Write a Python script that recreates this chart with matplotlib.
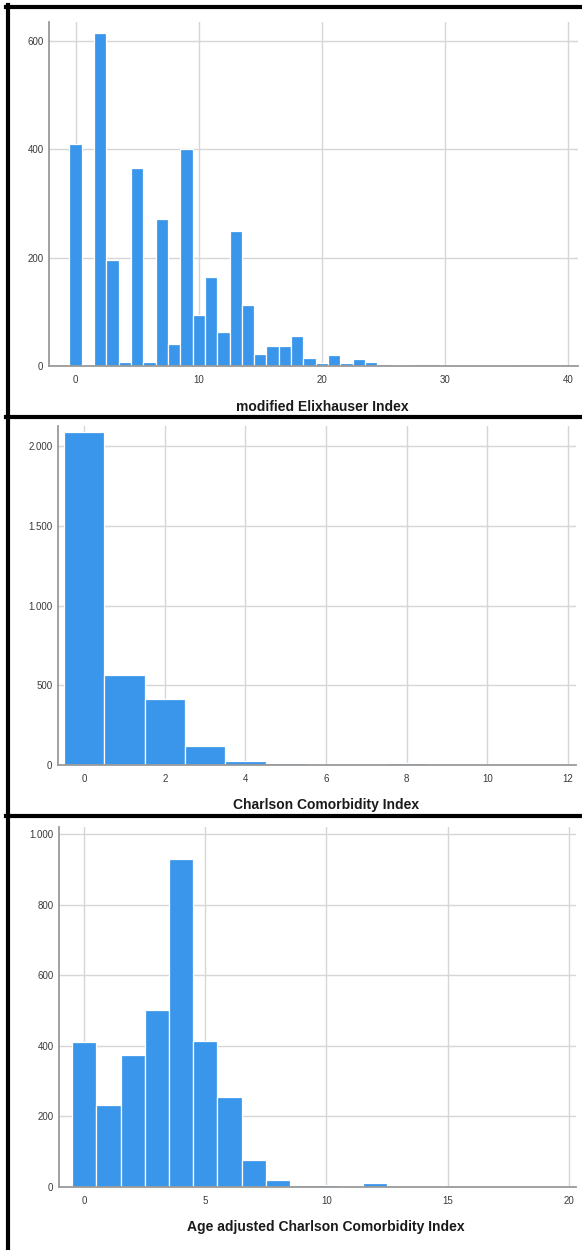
import matplotlib
matplotlib.use('Agg')
import matplotlib.pyplot as plt
from matplotlib.lines import Line2D
from matplotlib.ticker import FuncFormatter, MultipleLocator

plt.rcParams['font.family'] = ['Liberation Sans', 'DejaVu Sans']

# modified Elixhauser Index, score 0..35
elix_scores = list(range(0, 36))
elix_counts = [410, 0, 615, 196, 8, 366, 7, 272, 40, 400,
               94, 164, 62, 249, 112, 23, 37, 37, 56, 14,
               5, 20, 6, 12, 7, 4, 1, 1, 3, 3,
               1, 0, 1, 0, 1, 0]

# Charlson Comorbidity Index, score 0..12
cci_scores = list(range(0, 13))
cci_counts = [2090, 566, 411, 118, 28, 10, 7, 3, 12, 3, 2, 2, 1]

# Age adjusted Charlson Comorbidity Index, score 0..19
acci_scores = list(range(0, 20))
acci_counts = [410, 232, 375, 501, 929, 414, 255, 77, 20, 7,
               6, 2, 10, 3, 1, 1, 1, 1, 0, 0]

W, H = 582, 1250
BAR = '#3a96ea'
GRID = '#d6d6d6'
SPINE = '#9a9a9a'
TXT = '#3a3a3a'

fig = plt.figure(figsize=(W / 100, H / 100), dpi=100)
fig.patch.set_facecolor('white')


def px_axes(left, top, right, bottom):
    return fig.add_axes([left / W, 1 - bottom / H, (right - left) / W, (bottom - top) / H])


def thousands(v, pos):
    return f"{int(round(v)):,}".replace(',', '.')


def panel(box, scores, counts, xlim, ylim, xstep, ystep, label, label_xy):
    ax = px_axes(*box)
    ax.bar(scores, counts, width=1.0, color=BAR, edgecolor='white', linewidth=0.9, zorder=3)
    ax.set_xlim(*xlim)
    ax.set_ylim(*ylim)
    ax.xaxis.set_major_locator(MultipleLocator(xstep))
    ax.yaxis.set_major_locator(MultipleLocator(ystep))
    ax.yaxis.set_major_formatter(FuncFormatter(thousands))
    ax.grid(True, color=GRID, linewidth=1.0, zorder=0)
    for s in ['top', 'right']:
        ax.spines[s].set_visible(False)
    for s in ['left', 'bottom']:
        ax.spines[s].set_color(SPINE)
        ax.spines[s].set_linewidth(1.3)
        ax.spines[s].set_zorder(4)
    ax.tick_params(axis='both', length=0, labelsize=7, labelcolor=TXT)
    ax.tick_params(axis='x', pad=6.5)
    ax.tick_params(axis='y', pad=4)
    fig.text(label_xy[0] / W, 1 - label_xy[1] / H, label, ha='center', va='center',
             fontsize=10, fontweight='bold', color='#1a1a1a')
    return ax


panel((49, 22, 578, 366), elix_scores, elix_counts, (-2.16, 40.8), (0, 635), 10, 200,
      'modified Elixhauser Index', (322, 407))
panel((58, 426, 576, 765), cci_scores, cci_counts, (-0.65, 12.2), (0, 2126), 2, 500,
      'Charlson Comorbidity Index', (326, 805))
panel((59, 827, 576, 1187), acci_scores, acci_counts, (-1.04, 20.3), (0, 1021), 5, 200,
      'Age adjusted Charlson Comorbidity Index', (326, 1227))

# black frame lines around the panels
for y in [7, 417, 816]:
    fig.add_artist(Line2D([6 / W, 1], [1 - y / H, 1 - y / H], transform=fig.transFigure,
                          color='black', linewidth=3))
fig.add_artist(Line2D([8 / W, 8 / W], [0, 1 - 5 / H], transform=fig.transFigure,
                      color='black', linewidth=3))

fig.savefig('out.png', dpi=100, facecolor='white')
